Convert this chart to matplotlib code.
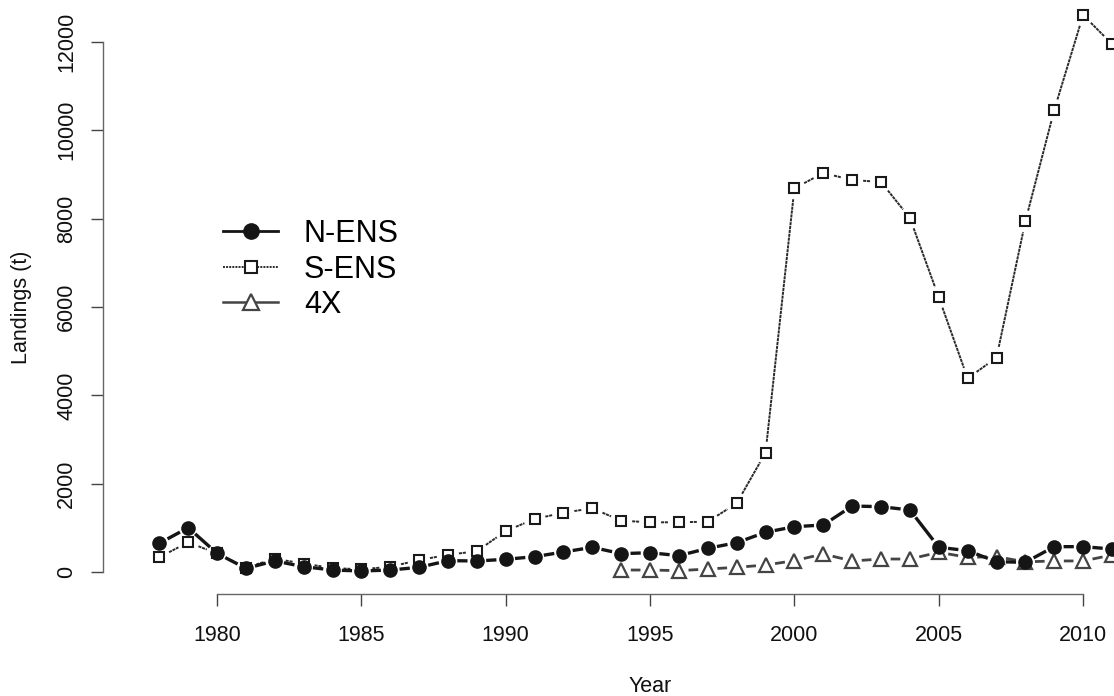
import numpy as np
import matplotlib
matplotlib.use('Agg')
import matplotlib.pyplot as plt
from matplotlib.lines import Line2D

plt.rcParams['font.family'] = ['Liberation Sans', 'DejaVu Sans']

# ---------- data ----------
years = np.arange(1978, 2012)

n_ens = [650, 1003, 423, 83, 250, 121, 45, 23, 45, 106, 257, 250, 287, 347,
         453, 559, 415, 437, 370, 536, 664, 899, 1026, 1064, 1494, 1479,
         1404, 560, 483, 234, 219, 574, 574, 520]

s_ens = [333, 672, 420, 100, 300, 190, 90, 60, 120, 270, 390, 470, 928, 1200,
         1343, 1442, 1162, 1125, 1125, 1140, 1555, 2702, 8687, 9033, 8875,
         8830, 8015, 6219, 4385, 4853, 7940, 10460, 12610, 11954]

x4_years = np.arange(1994, 2012)
x4 = [45, 45, 30, 68, 106, 158, 257, 408, 250, 294, 294, 446, 332, 347,
      230, 250, 250, 385]

# ---------- figure ----------
W, H = 1114, 696
fig = plt.figure(figsize=(W / 100, H / 100), dpi=100)
ax = fig.add_axes([103 / W, 1 - 594 / H, 1 - 103 / W, 594 / H])
ax.set_xlim(1976.05, 2011.07)
ax.set_ylim(-498, 12950)
fig.canvas.draw()


def gapped(x, y, gap=11):
    """R type='b' style: segments that stop short of each point (gap in px)."""
    pts = ax.transData.transform(np.column_stack([x, y]).astype(float))
    xs, ys = [], []
    for p0, p1 in zip(pts[:-1], pts[1:]):
        d = p1 - p0
        L = np.hypot(d[0], d[1])
        if L <= 2 * gap:
            continue
        a = p0 + d / L * gap
        b = p1 - d / L * gap
        xs += [a[0], b[0], np.nan]
        ys += [a[1], b[1], np.nan]
    seg = ax.transData.inverted().transform(np.column_stack([xs, ys]))
    return seg[:, 0], seg[:, 1]


# S-ENS
sx, sy = gapped(years, s_ens, 11)
ax.plot(sx, sy, color='#2a2a2a', lw=1.4, ls=(0, (1.6, 0.4)))
ax.plot(years, s_ens, ls='none', marker='s', ms=6.5, mfc='white',
        mec='#1a1a1a', mew=1.5)

# 4X
tx, ty = gapped(x4_years, x4, 11)
ax.plot(tx, ty, color='#444444', lw=2.0)
ax.plot(x4_years, x4, ls='none', marker='^', ms=10, mfc='white',
        mec='#444444', mew=1.6)

# N-ENS
nx, ny = gapped(years, n_ens, 11)
ax.plot(nx, ny, color='#151515', lw=2.4)
ax.plot(years, n_ens, ls='none', marker='o', ms=9.5, mfc='#151515',
        mec='#151515')

# ---------- axes ----------
for s in ['top', 'right']:
    ax.spines[s].set_visible(False)
ax.spines['left'].set_bounds(0, 12000)
ax.spines['bottom'].set_bounds(1980, 2010)
for s in ['left', 'bottom']:
    ax.spines[s].set_color('#666666')
    ax.spines[s].set_linewidth(1.0)

ax.set_xticks(np.arange(1980, 2011, 5))
ax.set_yticks(np.arange(0, 12001, 2000))
ax.tick_params(axis='both', length=8.5, width=1.0, color='#444444',
               labelsize=15.5, labelcolor='#111111')
ax.tick_params(axis='x', pad=14)
ax.tick_params(axis='y', pad=10)
for lab in ax.get_yticklabels():
    lab.set_rotation(90)
    lab.set_va('center')
    lab.set_ha('right')

fig.text(650 / W, 1 - 686 / H, 'Year', ha='center', va='center',
         fontsize=15.5, color='#111111')
fig.text(22 / W, 1 - 307 / H, 'Landings (t)', ha='center', va='center',
         rotation=90, fontsize=15.5, color='#111111')

# ---------- legend ----------
handles = [
    Line2D([], [], color='#151515', lw=2.0, marker='o', ms=11,
           mfc='#151515', mec='#151515'),
    Line2D([], [], color='#2a2a2a', lw=1.4, ls=(0, (1, 0.6)), marker='s',
           ms=8.5, mfc='white', mec='#1a1a1a', mew=1.5),
    Line2D([], [], color='#444444', lw=1.8, marker='^', ms=11.5, mfc='white',
           mec='#444444', mew=1.6),
]
fig.legend(handles, ['N-ENS', 'S-ENS', '4X'], loc='upper left',
           bbox_to_anchor=(223 / W, 1 - 219 / H), frameon=False,
           fontsize=22, handlelength=1.8, handletextpad=0.85,
           labelspacing=0.18, borderpad=0, borderaxespad=0)

fig.savefig('out.png', dpi=100)
